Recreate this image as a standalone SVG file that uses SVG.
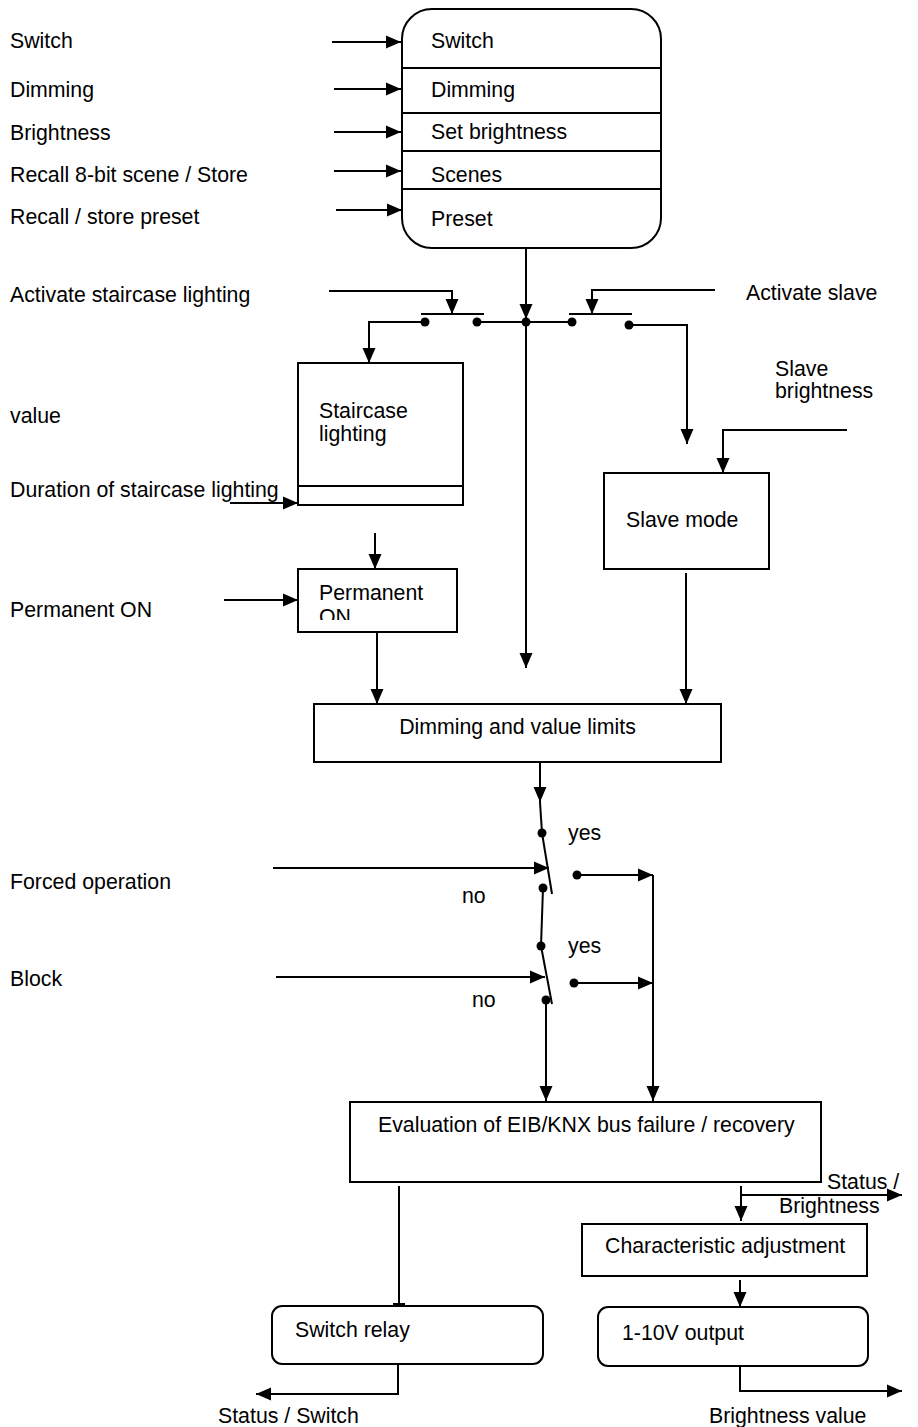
<svg xmlns="http://www.w3.org/2000/svg" width="918" height="1427" viewBox="0 0 918 1427">
<defs>
<marker id="ah" markerUnits="userSpaceOnUse" markerWidth="16" markerHeight="14" refX="15" refY="7" orient="auto">
<path d="M0,0.5 L15,7 L0,13.5 z" fill="#000"/>
</marker>
<clipPath id="clipON"><rect x="300" y="571" width="155" height="49"/></clipPath>
</defs>
<style>
text{font-family:"Liberation Sans",Arial,sans-serif;font-size:21.3px;fill:#000}
.box{fill:#fff;stroke:#000;stroke-width:2}
.ln{fill:none;stroke:#000;stroke-width:2}
.ar{fill:none;stroke:#000;stroke-width:2;marker-end:url(#ah)}
.dot{fill:#000}
</style>
<rect width="918" height="1427" fill="#fff"/>

<g id="labels">
<text x="10" y="48">Switch</text>
<text x="10" y="97">Dimming</text>
<text x="10" y="140">Brightness</text>
<text x="10" y="182">Recall 8-bit scene / Store</text>
<text x="10" y="224">Recall / store preset</text>
<text x="10" y="302">Activate staircase lighting</text>
<text x="746" y="300">Activate slave</text>
<text x="775" y="376">Slave</text>
<text x="775" y="398">brightness</text>
<text x="10" y="423">value</text>
<text x="10" y="497">Duration of staircase lighting</text>
<text x="10" y="617">Permanent ON</text>
<text x="10" y="889">Forced operation</text>
<text x="10" y="986">Block</text>
<text x="568" y="840">yes</text>
<text x="462" y="903">no</text>
<text x="568" y="953">yes</text>
<text x="472" y="1007">no</text>
<text x="827" y="1189">Status /</text>
<text x="779" y="1213">Brightness</text>
<text x="218" y="1423">Status / Switch</text>
<text x="709" y="1423">Brightness value</text>
</g>

<g id="objects">
<rect class="box" x="402" y="9" width="259" height="239" rx="30"/>
<line class="ln" x1="403" y1="68" x2="661" y2="68"/>
<line class="ln" x1="403" y1="113" x2="661" y2="113"/>
<line class="ln" x1="403" y1="151" x2="661" y2="151"/>
<line class="ln" x1="403" y1="189" x2="661" y2="189"/>
<text x="431" y="48">Switch</text>
<text x="431" y="97">Dimming</text>
<text x="431" y="139">Set brightness</text>
<text x="431" y="182">Scenes</text>
<text x="431" y="226">Preset</text>
</g>

<g id="staircase">
<rect class="box" x="298" y="363" width="165" height="142"/>
<line class="ln" x1="298" y1="486" x2="463" y2="486"/>
<text x="319" y="418">Staircase</text>
<text x="319" y="441">lighting</text>
</g>

<g id="permanent">
<rect class="box" x="298" y="569" width="159" height="63"/>
<text x="319" y="600">Permanent</text>
<text x="319" y="624" clip-path="url(#clipON)">ON</text>
</g>

<g id="slave">
<rect class="box" x="604" y="473" width="165" height="96"/>
<text x="626" y="527">Slave mode</text>
</g>

<g id="limits">
<rect class="box" x="314" y="704" width="407" height="58"/>
<text x="517.5" y="734" text-anchor="middle">Dimming and value limits</text>
</g>

<g id="evaluation">
<rect class="box" x="350" y="1102" width="471" height="80"/>
<text x="378" y="1132">Evaluation of EIB/KNX bus failure / recovery</text>
</g>

<g id="characteristic">
<rect class="box" x="582" y="1224" width="285" height="52"/>
<text x="605" y="1253">Characteristic adjustment</text>
</g>

<g id="relay">
<rect class="box" x="272" y="1306" width="271" height="58" rx="10"/>
<text x="295" y="1337">Switch relay</text>
</g>

<g id="output">
<rect class="box" x="598" y="1307" width="270" height="59" rx="10"/>
<text x="622" y="1340">1-10V output</text>
</g>

<g id="connectors">
<line class="ar" x1="332" y1="42" x2="401" y2="42"/>
<line class="ar" x1="334" y1="89" x2="401" y2="89"/>
<line class="ar" x1="334" y1="132" x2="401" y2="132"/>
<line class="ar" x1="334" y1="171" x2="401" y2="171"/>
<line class="ar" x1="336" y1="210" x2="402" y2="210"/>

<line class="ar" x1="526" y1="248" x2="526" y2="319"/>
<line class="ar" x1="526" y1="322" x2="526" y2="668"/>
<polyline class="ar" points="329,291 452,291 452,314"/>
<line class="ln" x1="421" y1="314" x2="484" y2="314"/>
<line class="ln" x1="477" y1="322" x2="572" y2="322"/>
<polyline class="ar" points="425,322 369,322 369,363"/>
<polyline class="ar" points="715,290 592,290 592,314"/>
<line class="ln" x1="569" y1="314" x2="632" y2="314"/>
<polyline class="ar" points="629,325 687,325 687,444"/>
<circle class="dot" cx="425" cy="322" r="4.5"/>
<circle class="dot" cx="477" cy="322" r="4.5"/>
<circle class="dot" cx="526" cy="322" r="4.5"/>
<circle class="dot" cx="572" cy="322" r="4.5"/>
<circle class="dot" cx="629" cy="325" r="4.5"/>

<line class="ar" x1="230" y1="503" x2="298" y2="503"/>
<line class="ar" x1="375" y1="533" x2="375" y2="569"/>
<line class="ar" x1="224" y1="600" x2="298" y2="600"/>
<line class="ar" x1="377" y1="632" x2="377" y2="704"/>
<polyline class="ar" points="847,430 723,430 723,473"/>
<line class="ar" x1="686" y1="573" x2="686" y2="704"/>

<line class="ar" x1="540" y1="762" x2="540" y2="802"/>
<line class="ln" x1="540" y1="802" x2="542" y2="833"/>
<line class="ln" x1="542" y1="833" x2="552" y2="894"/>
<line class="ar" x1="273" y1="868" x2="549" y2="868"/>
<line class="ar" x1="577" y1="875" x2="653" y2="875"/>
<line class="ln" x1="543" y1="888" x2="541" y2="946"/>
<line class="ln" x1="541" y1="946" x2="552" y2="1004"/>
<line class="ar" x1="276" y1="977" x2="545" y2="977"/>
<line class="ar" x1="574" y1="983" x2="653" y2="983"/>
<line class="ar" x1="653" y1="875" x2="653" y2="1101"/>
<line class="ar" x1="546" y1="1000" x2="546" y2="1101"/>
<circle class="dot" cx="542" cy="833" r="4.5"/>
<circle class="dot" cx="543" cy="888" r="4.5"/>
<circle class="dot" cx="577" cy="875" r="4.5"/>
<circle class="dot" cx="541" cy="946" r="4.5"/>
<circle class="dot" cx="546" cy="1000" r="4.5"/>
<circle class="dot" cx="574" cy="983" r="4.5"/>

<line class="ln" x1="399" y1="1186" x2="399" y2="1305"/>
<line class="ln" x1="393" y1="1304" x2="405" y2="1304"/>
<polyline class="ar" points="398,1364 398,1394 256,1394"/>
<line class="ar" x1="741" y1="1186" x2="741" y2="1221"/>
<line class="ar" x1="741" y1="1195" x2="902" y2="1195"/>
<line class="ar" x1="740" y1="1280" x2="740" y2="1307"/>
<polyline class="ar" points="740,1366 740,1391 902,1391"/>
</g>
</svg>
